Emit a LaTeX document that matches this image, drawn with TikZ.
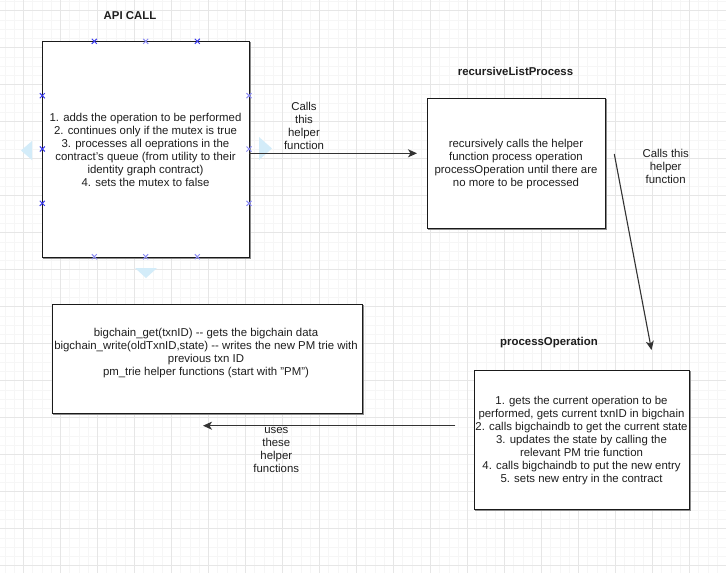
\documentclass[tikz,border=0pt]{standalone}
\usepackage{fontspec}
\setmainfont{Liberation Sans}
\usetikzlibrary{arrows.meta,calc}
\definecolor{minorg}{HTML}{F6F6F6}
\definecolor{majorg}{HTML}{E6E6E6}
\definecolor{boxline}{HTML}{1A1A1A}
\definecolor{shadowg}{HTML}{8C8C8C}
\definecolor{hint}{HTML}{D3ECF9}
\definecolor{mkdark}{HTML}{3C3CF0}
\definecolor{mklight}{HTML}{8E8EF5}
\definecolor{txt}{HTML}{1E1E1E}
\tikzset{
  x=1pt,y=-1pt,
  every node/.style={font=\fontsize{11.4}{13}\selectfont, text=txt, inner sep=0pt},
  box/.style={draw=boxline, line width=1pt, fill=white, minimum width=#1},
  title/.style={font=\fontsize{11.4}{13}\selectfont\bfseries},
  lbl/.style={align=center},
  conn/.style={draw=black!80, line width=1.1pt, -{Stealth[length=9pt,width=8pt,inset=2.5pt]}},
  mk/.style={line width=1pt},
}
\newcommand{\mkx}[3]{\draw[mk,#3] ($(#1,#2)+(-2.5,-2.5)$) -- ($(#1,#2)+(2.5,2.5)$) ($(#1,#2)+(-2.5,2.5)$) -- ($(#1,#2)+(2.5,-2.5)$);}
\newcommand{\dd}{\mbox{-}\mbox{-}}
\begin{document}
\begin{tikzpicture}
\useasboundingbox (0,0) rectangle (726,573);
\fill[white] (0,0) rectangle (726,573);
% grid
\foreach \i in {0,...,80} {\draw[minorg, line width=0.6pt] ({-13.7+9.25*\i},0) -- ({-13.7+9.25*\i},573);}
\foreach \j in {0,...,66} {\draw[minorg, line width=0.6pt] (0,{-26.3+9.25*\j}) -- (726,{-26.3+9.25*\j});}
\foreach \i in {0,...,20} {\draw[majorg, line width=0.8pt] ({-13.7+37*\i},0) -- ({-13.7+37*\i},573);}
\foreach \j in {0,...,16} {\draw[majorg, line width=0.8pt] (0,{-26.3+37*\j}) -- (726,{-26.3+37*\j});}

% hint triangles around API CALL box
\fill[hint] (32,141) -- (21,150.5) -- (32,160) -- cycle;
\fill[hint] (259,137) -- (272,148.5) -- (259,160) -- cycle;
\fill[hint] (135,268) -- (157,268) -- (146,278) -- cycle;

% shadows
\draw[shadowg, line width=1.2pt] (250.2,42) -- (250.2,258.2) -- (43,258.2);
\draw[shadowg, line width=1.2pt] (606.2,99) -- (606.2,229.2) -- (428,229.2);
\draw[shadowg, line width=1.2pt] (363.2,305) -- (363.2,414.2) -- (53,414.2);
\draw[shadowg, line width=1.2pt] (690.2,371) -- (690.2,510.2) -- (475,510.2);

% boxes
\node[box=207pt, minimum height=216pt] (api) at (145.5,149) {};
\node[lbl] (apitext) at (145.5,149.5) {1. adds the operation to be performed\\2. continues only if the mutex is true\\3. processes all oeprations in the\\contract's queue (from utility to their\\identity graph contract)\\4. sets the mutex to false};
\node[title] (apititle) at (130,16) {API CALL};

\node[box=178pt, minimum height=130pt] (rec) at (516,163) {};
\node[lbl] (rectext) at (516,164) {recursively calls the helper\\function process operation\\processOperation until there are\\no more to be processed};
\node[title] (rectitle) at (515.5,71) {recursiveListProcess};

\node[box=310pt, minimum height=109pt] (helpers) at (207,358.5) {};
\node[lbl] (helptext) at (206,353.5) {bigchain\_get(txnID) \dd{} gets the bigchain data\\bigchain\_write(oldTxnID,state) \dd{} writes the new PM trie with\\previous txn ID\\pm\_trie helper functions (start with "PM")};

\node[box=215pt, minimum height=139pt] (proc) at (581.5,439.5) {};
\node[lbl] (proctext) at (581.5,441) {1. gets the current operation to be\\performed, gets current txnID in bigchain\\2. calls bigchaindb to get the current state\\3. updates the state by calling the\\relevant PM trie function\\4. calls bigchaindb to put the new entry\\5. sets new entry in the contract};
\node[title] (proctitle) at (549,343) {processOperation};

% markers on API box
\mkx{94.3}{41.3}{mkdark}
\mkx{145.7}{41.3}{mklight}
\mkx{197.3}{41.3}{mkdark}
\mkx{94.3}{256.7}{mklight}
\mkx{145.7}{256.7}{mklight}
\mkx{197.3}{256.7}{mklight}
\mkx{42.3}{95.7}{mkdark}
\mkx{42.3}{149}{mkdark}
\mkx{42.3}{203.3}{mkdark}
\mkx{249}{95.7}{mklight}
\mkx{249}{149}{mklight}
\mkx{249}{203.3}{mklight}

% connectors
\coordinate (c1s) at (249,153.3);
\coordinate (c1e) at (417,153.3);
\draw[conn] (c1s) -- (c1e);
\node[lbl] (l1) at (304,126) {Calls\\this\\helper\\function};

\coordinate (c2s) at (614.3,154);
\coordinate (c2e) at (651.5,350);
\draw[conn] (c2s) -- (c2e);
\node[lbl] (l2) at (665.7,166.5) {Calls this\\helper\\function};

\coordinate (c3s) at (455.3,425.7);
\coordinate (c3e) at (203,425.7);
\draw[conn] (c3s) -- (c3e);
\node[lbl] (l3) at (276.3,450) {uses\\these\\helper\\functions};
\end{tikzpicture}
\end{document}
